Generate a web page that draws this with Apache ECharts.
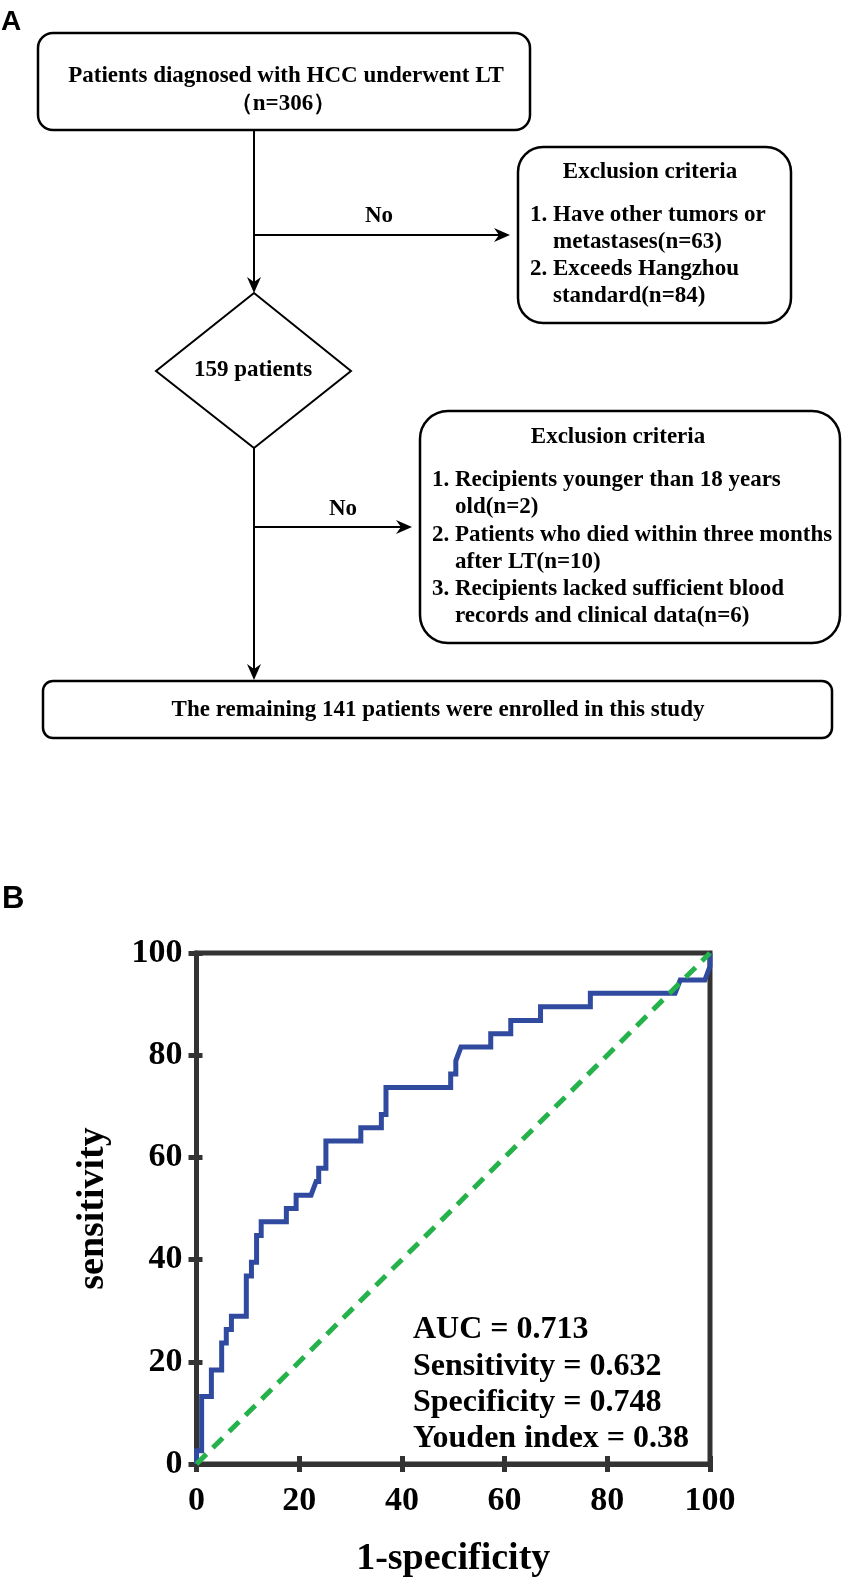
<!DOCTYPE html>
<html>
<head>
<meta charset="utf-8">
<script src="https://cdn.jsdelivr.net/npm/echarts@6/dist/echarts.min.js"></script>
<style>
  html, body { margin: 0; padding: 0; background: #fff; }
  #main { width: 854px; height: 1579px; }
</style>
</head>
<body>
<div id="main"></div>
<script>
// ROC curve vertices (percent)
var fpr = [0, 0, 1.0, 1.0, 2.9, 2.9, 4.9, 4.9, 5.8, 5.8, 6.8, 6.8, 9.7, 9.7, 10.7, 10.7,
  11.7, 11.7, 12.6, 12.6, 17.5, 17.5, 19.4, 19.4, 22.3, 23.3, 23.8, 23.8, 25.2, 25.2,
  32.0, 32.0, 36.0, 36.0, 36.9, 36.9, 49.5, 49.5, 50.5, 50.5, 51.5, 57.3, 57.3,
  61.2, 61.2, 67.0, 67.0, 76.7, 76.7, 93.2, 94.2, 99.0, 100, 100];
var tpr = [0, 2.6, 2.6, 13.2, 13.2, 18.4, 18.4, 23.7, 23.7, 26.3, 26.3, 28.9, 28.9, 36.8, 36.8, 39.5,
  39.5, 44.7, 44.7, 47.4, 47.4, 50.0, 50.0, 52.6, 52.6, 55.3, 55.3, 57.9, 57.9, 63.2,
  63.2, 65.8, 65.8, 68.4, 68.4, 73.7, 73.7, 76.3, 76.3, 78.9, 81.6, 81.6, 84.2,
  84.2, 86.8, 86.8, 89.5, 89.5, 92.1, 92.1, 94.7, 94.7, 97.4, 100];
var refX = [0, 100];
var refY = [0, 100];
var axisTicks = [0, 20, 40, 60, 80, 100];
var stats = ['AUC = 0.713', 'Sensitivity = 0.632', 'Specificity = 0.748', 'Youden index = 0.38'];

// flowchart texts
var topBox = ['Patients diagnosed with HCC underwent LT', '（n=306）'];
var excl1 = ['1. Have other tumors or', 'metastases(n=63)', '2. Exceeds Hangzhou', 'standard(n=84)'];
var excl2 = ['1. Recipients younger than 18 years', 'old(n=2)', '2. Patients who died within three months',
  'after LT(n=10)', '3. Recipients lacked sufficient blood', 'records and clinical data(n=6)'];
var midText = '159 patients';
var finalText = 'The remaining 141 patients were enrolled in this study';

var SERIF = 'bold 23px "Liberation Serif", "Times New Roman", serif';
var BLUE = '#2f4a9e', GREEN = '#25b24a', AXIS = '#333';

function txt(s, x, y, align, font) {
  return { type: 'text', style: { text: s, x: x, y: y, font: font || SERIF, fill: '#000',
    align: align || 'center', verticalAlign: 'middle' } };
}
function box(x, y, w, h, r) {
  return { type: 'rect', shape: { x: x, y: y, width: w, height: h, r: r },
    style: { fill: 'none', stroke: '#000', lineWidth: 2.5 } };
}
function line(x1, y1, x2, y2) {
  return { type: 'line', shape: { x1: x1, y1: y1, x2: x2, y2: y2 }, style: { stroke: '#000', lineWidth: 2 } };
}
function arrowDown(x, y) {
  return { type: 'polygon', shape: { points: [[x, y], [x - 7, y - 16], [x, y - 11], [x + 7, y - 16]] },
    style: { fill: '#000' } };
}
function arrowRight(x, y) {
  return { type: 'polygon', shape: { points: [[x, y], [x - 16, y - 7], [x - 11, y], [x - 16, y + 7]] },
    style: { fill: '#000' } };
}

var g = [];
g.push(txt('A', 1, 22, 'left', 'bold 28px "Liberation Sans", Arial, sans-serif'));
g.push(txt('B', 2, 899, 'left', 'bold 31px "Liberation Sans", Arial, sans-serif'));

// top box
g.push(box(38, 33, 492, 97, 15));
g.push(txt(topBox[0], 286, 76));
g.push(txt(topBox[1], 283, 104));
g.push(line(254, 130, 254, 285));
g.push(arrowDown(254, 293));
g.push(line(254, 235, 502, 235));
g.push(arrowRight(510, 235));
g.push(txt('No', 379, 216));

// first exclusion box
g.push(box(518, 147, 273, 176, 25));
g.push(txt('Exclusion criteria', 650, 172));
[215, 242, 269, 296].forEach(function (y, i) {
  g.push(txt(excl1[i], i % 2 ? 553 : 530, y, 'left'));
});

// diamond
g.push({ type: 'polygon', shape: { points: [[254, 293], [351, 371], [254, 448], [156, 371]] },
  style: { fill: 'none', stroke: '#000', lineWidth: 2 } });
g.push(txt(midText, 253, 370));
g.push(line(254, 448, 254, 672));
g.push(arrowDown(254, 680));
g.push(line(254, 527, 404, 527));
g.push(arrowRight(412, 527));
g.push(txt('No', 343, 509));

// second exclusion box
g.push(box(420, 411, 420, 232, 28));
g.push(txt('Exclusion criteria', 618, 437));
[480, 507, 535, 562, 589, 616].forEach(function (y, i) {
  g.push(txt(excl2[i], i % 2 ? 455 : 432, y, 'left'));
});

// final box
g.push(box(43, 681, 789, 57, 10));
g.push(txt(finalText, 438, 710));

// ROC stats
[1330, 1367, 1403, 1439].forEach(function (y, i) {
  g.push(txt(stats[i], 413, y, 'left', 'bold 32px "Liberation Serif", "Times New Roman", serif'));
});

var labelStyle = { fontFamily: 'Liberation Serif', fontWeight: 'bold', fontSize: 34, color: '#000' };
var nameStyle = { fontFamily: 'Liberation Serif', fontWeight: 'bold', fontSize: 38, color: '#000' };

function valAxis(extra) {
  var a = {
    type: 'value', min: 0, max: 100, interval: 20,
    axisLine: { show: true, lineStyle: { color: AXIS, width: 5 } },
    axisTick: { show: true, length: 8, lineStyle: { color: AXIS, width: 5 } },
    splitLine: { show: false },
    axisLabel: labelStyle
  };
  for (var k in extra) a[k] = extra[k];
  return a;
}

var chart = echarts.init(document.getElementById('main'), null, { renderer: 'canvas' });
chart.setOption({
  animation: false,
  backgroundColor: '#fff',
  grid: { left: 196.5, top: 953, width: 513.5, height: 514, show: true,
    borderColor: AXIS, borderWidth: 5, backgroundColor: 'transparent' },
  xAxis: [
    valAxis({ position: 'bottom', name: '1-specificity', nameLocation: 'middle', nameGap: 76,
      nameTextStyle: nameStyle,
      axisLabel: Object.assign({ margin: 20, formatter: function (v) { return axisTicks.indexOf(v) > -1 ? v : ''; } }, labelStyle) }),
    valAxis({ position: 'bottom', axisLine: { show: false }, axisLabel: { show: false },
      axisTick: { show: true, inside: true, length: 8, lineStyle: { color: AXIS, width: 5 } } })
  ],
  yAxis: [
    valAxis({ position: 'left', name: 'sensitivity', nameLocation: 'middle', nameGap: 84,
      nameTextStyle: nameStyle, axisLabel: Object.assign({ margin: 14 }, labelStyle) }),
    valAxis({ position: 'left', axisLine: { show: false }, axisLabel: { show: false },
      axisTick: { show: true, inside: true, length: 6, lineStyle: { color: AXIS, width: 5 } } })
  ],
  series: [
    {
      type: 'line', xAxisIndex: 0, yAxisIndex: 0, showSymbol: false, z: 3,
      data: fpr.map(function (x, i) { return [x, tpr[i]]; }),
      lineStyle: { color: BLUE, width: 5, join: 'miter' }
    },
    {
      type: 'line', xAxisIndex: 0, yAxisIndex: 0, showSymbol: false, z: 4,
      data: refX.map(function (x, i) { return [x, refY[i]]; }),
      lineStyle: { color: GREEN, width: 5, type: [14, 9] }
    }
  ],
  graphic: g
});
</script>
</body>
</html>
